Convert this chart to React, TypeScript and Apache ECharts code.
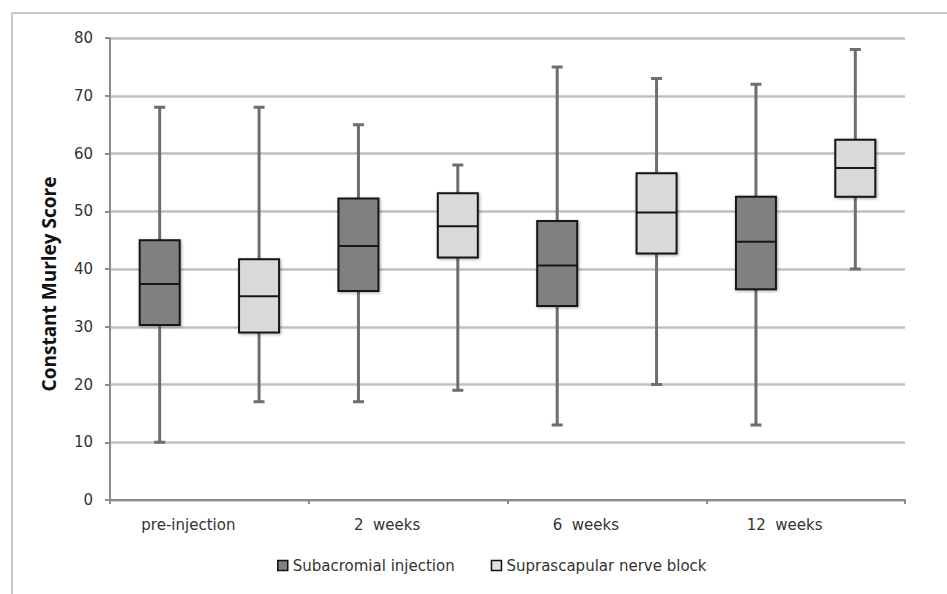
import React, { useEffect, useRef } from "react";
import * as echarts from "echarts";

const categories = ["pre-injection", "2  weeks", "6  weeks", "12  weeks"];
const seriesNames = ["Subacromial injection", "Suprascapular nerve block"];
// [min, Q1, median, Q3, max]
const subacromial = [
  [10, 30.3, 37.4, 45, 68],
  [17, 36.2, 44, 52.2, 65],
  [13, 33.6, 40.6, 48.3, 75],
  [13, 36.5, 44.7, 52.5, 72],
];
const suprascapular = [
  [17, 29, 35.3, 41.7, 68],
  [19, 42, 47.4, 53.1, 58],
  [20, 42.7, 49.8, 56.6, 73],
  [40, 52.5, 57.5, 62.4, 78],
];
const yTicks = { min: 0, max: 80, interval: 10 };

const FONT = "DejaVu Sans";

export default function App() {
  const ref = useRef<HTMLDivElement>(null);
  useEffect(() => {
    if (!ref.current) return;
    const chart = echarts.init(ref.current, undefined, { renderer: "svg" });
    // 8 slots: two per category (dark then light)
    const slots: string[] = [];
    const whiskers: any[] = [];
    const darkBoxes: any[] = [];
    const lightBoxes: any[] = [];
    categories.forEach((c, i) => {
      const a = subacromial[i];
      const b = suprascapular[i];
      slots.push(c + "_a", c + "_b");
      whiskers.push([a[0], a[2], a[2], a[2], a[4]]);
      whiskers.push([b[0], b[2], b[2], b[2], b[4]]);
      darkBoxes.push([a[1], a[1], a[2], a[3], a[3]], "-");
      lightBoxes.push("-", [b[1], b[1], b[2], b[3], b[3]]);
    });
    const hiddenAxis = () => ({
      type: "category",
      data: slots,
      show: false,
      gridIndex: 0,
    });
    const shadow = {
      shadowBlur: 3,
      shadowColor: "rgba(0,0,0,0.35)",
      shadowOffsetX: 1,
      shadowOffsetY: 1,
    };
    chart.setOption({
      animation: false,
      backgroundColor: "#ffffff",
      grid: { left: 110, right: 42, top: 38, bottom: 94 },
      xAxis: [
        {
          type: "category",
          data: categories,
          axisLine: { show: true, lineStyle: { color: "#8c8c8c", width: 2 } },
          axisTick: { show: true, length: 4, lineStyle: { color: "#8c8c8c", width: 2 } },
          axisLabel: {
            color: "#333",
            fontFamily: FONT,
            fontSize: 15,
            margin: 17,
            padding: [0, 42, 0, 0],
          },
        },
        hiddenAxis(),
        hiddenAxis(),
        hiddenAxis(),
      ],
      yAxis: {
        type: "value",
        min: yTicks.min,
        max: yTicks.max,
        interval: yTicks.interval,
        axisLine: { show: true, lineStyle: { color: "#8c8c8c", width: 2 } },
        axisTick: { show: true, length: 5, lineStyle: { color: "#8c8c8c", width: 2 } },
        axisLabel: { color: "#333", fontFamily: FONT, fontSize: 15, margin: 17 },
        splitLine: { show: true, lineStyle: { color: "#c0c0c0", width: 2.5 } },
      },
      legend: {
        bottom: 16,
        left: 272,
        icon: "rect",
        itemWidth: 10,
        itemHeight: 10,
        itemGap: 36,
        textStyle: { color: "#333", fontFamily: FONT, fontSize: 15 },
        data: [
          {
            name: seriesNames[0],
            itemStyle: { color: "#808080", borderColor: "#111", borderWidth: 1.5 },
          },
          {
            name: seriesNames[1],
            itemStyle: { color: "#e0e0e0", borderColor: "#111", borderWidth: 1.5 },
          },
        ],
      },
      graphic: [
        {
          type: "rect",
          shape: { x: 12, y: 13, width: 1200, height: 1200 },
          style: { fill: "none", stroke: "#c8c8c8", lineWidth: 2 },
          silent: true,
        },
        {
          type: "text",
          x: 49,
          y: 284,
          rotation: Math.PI / 2,
          style: {
            text: "Constant Murley Score",
            fontFamily: "Open Sans",
            fontWeight: "bold",
            fontSize: 19,
            fill: "#111",
            align: "center",
            verticalAlign: "middle",
          },
        },
      ],
      series: [
        {
          name: "whiskers",
          type: "boxplot",
          xAxisIndex: 1,
          z: 2,
          boxWidth: [11, 11],
          itemStyle: { color: "#707070", borderColor: "#6e6e6e", borderWidth: 3 },
          data: whiskers,
        },
        {
          name: seriesNames[0],
          type: "boxplot",
          xAxisIndex: 2,
          z: 3,
          boxWidth: [40, 40],
          itemStyle: { color: "#808080", borderColor: "#161616", borderWidth: 2, ...shadow },
          data: darkBoxes,
        },
        {
          name: seriesNames[1],
          type: "boxplot",
          xAxisIndex: 3,
          z: 3,
          boxWidth: [40, 40],
          itemStyle: { color: "#d9d9d9", borderColor: "#161616", borderWidth: 2, ...shadow },
          data: lightBoxes,
        },
      ],
    });
    return () => chart.dispose();
  }, []);
  return (
    <div
      ref={ref}
      style={{ position: "fixed", left: 0, top: 0, width: 947, height: 594, background: "#fff" }}
    />
  );
}
